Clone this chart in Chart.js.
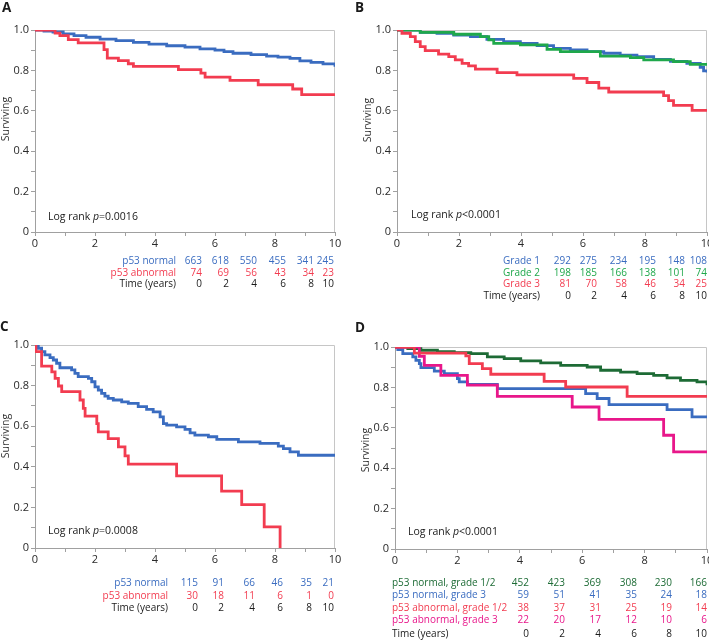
<!DOCTYPE html>
<html>
<head>
<meta charset="utf-8">
<script src="https://cdn.jsdelivr.net/npm/chart.js@4.4.1/dist/chart.umd.min.js"></script>
<style>
html, body { margin: 0; padding: 0; background: #fff; overflow: hidden; width: 709px; height: 640px; }
canvas { position: absolute; }
</style>
</head>
<body>
<canvas id="pA" width="354" height="310" style="left:0px;top:0px"></canvas>
<canvas id="pB" width="372" height="310" style="left:354px;top:0px"></canvas>
<canvas id="pC" width="354" height="330" style="left:0px;top:310px"></canvas>
<canvas id="pD" width="372" height="330" style="left:354px;top:310px"></canvas>
<script>
// ---- data (time in years, survival fraction) ----
const aNormalT = [0, 0.3, 0.6, 0.94, 1.3, 1.7, 2.17, 2.7, 3.28, 3.8, 4.39, 5.0, 5.5, 6.0, 6.3, 6.6, 7.2, 7.72, 8.1, 8.5, 8.83, 9.2, 9.6, 10];
const aNormalS = [1.0, 0.995, 0.99, 0.981, 0.972, 0.964, 0.955, 0.947, 0.939, 0.930, 0.922, 0.915, 0.907, 0.900, 0.893, 0.885, 0.878, 0.871, 0.866, 0.860, 0.847, 0.840, 0.832, 0.818];
const aAbnT = [0, 0.67, 0.83, 1.11, 1.44, 2.3, 2.41, 2.78, 3.11, 3.28, 4.78, 5.53, 5.67, 6.5, 7.44, 8.59, 8.89, 10];
const aAbnS = [1.0, 0.985, 0.972, 0.952, 0.936, 0.903, 0.861, 0.848, 0.833, 0.820, 0.804, 0.787, 0.767, 0.751, 0.729, 0.708, 0.680, 0.680];

const bG1T = [0, 0.75, 1.29, 1.83, 2.37, 2.9, 3.44, 3.98, 4.52, 5.05, 5.59, 6.13, 6.67, 7.2, 7.74, 8.28, 8.82, 9.35, 9.78, 9.89, 10];
const bG1S = [1.0, 0.988, 0.984, 0.975, 0.967, 0.954, 0.942, 0.934, 0.923, 0.909, 0.901, 0.893, 0.885, 0.876, 0.868, 0.855, 0.845, 0.835, 0.815, 0.798, 0.789];
const bG2T = [0, 0.75, 1.83, 2.69, 2.96, 3.12, 3.98, 4.84, 5.27, 6.56, 7.53, 7.96, 8.92, 9.46, 10];
const bG2S = [1.0, 0.988, 0.979, 0.967, 0.951, 0.934, 0.926, 0.904, 0.893, 0.871, 0.863, 0.852, 0.843, 0.830, 0.830];
const bG3T = [0, 0.16, 0.43, 0.59, 0.75, 0.91, 1.34, 1.67, 1.88, 2.1, 2.31, 2.53, 3.23, 3.87, 5.7, 6.13, 6.51, 6.83, 8.6, 8.76, 8.92, 9.52, 10];
const bG3S = [1.0, 0.984, 0.967, 0.942, 0.918, 0.898, 0.881, 0.868, 0.852, 0.835, 0.822, 0.806, 0.789, 0.778, 0.761, 0.740, 0.712, 0.693, 0.675, 0.650, 0.627, 0.602, 0.602];

const cNormalT = [0, 0.11, 0.22, 0.33, 0.5, 0.61, 0.72, 0.83, 1.22, 1.33, 1.44, 1.78, 1.89, 2.0, 2.11, 2.22, 2.33, 2.44, 2.61, 2.89, 3.11, 3.44, 3.72, 3.94, 4.17, 4.28, 4.39, 4.72, 5.0, 5.17, 5.33, 5.78, 6.06, 6.78, 7.5, 8.11, 8.28, 8.5, 8.78, 10];
const cNormalS = [1.0, 0.984, 0.967, 0.951, 0.938, 0.926, 0.910, 0.888, 0.877, 0.860, 0.844, 0.836, 0.819, 0.794, 0.778, 0.762, 0.748, 0.737, 0.729, 0.720, 0.712, 0.696, 0.683, 0.671, 0.646, 0.613, 0.605, 0.597, 0.584, 0.567, 0.556, 0.548, 0.535, 0.523, 0.515, 0.502, 0.490, 0.474, 0.457, 0.457];
const cAbnT = [0, 0.03, 0.22, 0.56, 0.67, 0.78, 0.89, 1.5, 1.61, 1.67, 2.06, 2.11, 2.44, 2.78, 3.0, 3.11, 4.72, 6.22, 6.89, 7.64, 8.17];
const cAbnS = [1.0, 0.967, 0.896, 0.868, 0.836, 0.798, 0.770, 0.729, 0.688, 0.650, 0.613, 0.572, 0.539, 0.498, 0.454, 0.413, 0.355, 0.280, 0.214, 0.104, 0];

const dNorm12T = [0, 0.41, 0.83, 1.36, 1.9, 2.43, 2.96, 3.5, 4.03, 4.67, 5.31, 6.16, 6.59, 7.23, 7.76, 8.29, 8.72, 9.15, 9.68, 10];
const dNorm12S = [1.0, 0.992, 0.984, 0.977, 0.972, 0.967, 0.951, 0.942, 0.931, 0.921, 0.909, 0.901, 0.885, 0.876, 0.868, 0.860, 0.847, 0.835, 0.827, 0.811];
const dNorm3T = [0, 0.09, 0.25, 0.57, 0.67, 0.78, 0.83, 1.26, 1.58, 2.0, 2.06, 2.32, 3.28, 6.11, 6.48, 6.86, 8.72, 9.52, 10];
const dNorm3S = [1.0, 0.987, 0.967, 0.951, 0.934, 0.918, 0.898, 0.881, 0.868, 0.843, 0.827, 0.815, 0.794, 0.769, 0.745, 0.715, 0.690, 0.654, 0.654];
const dAbn12T = [0, 0.62, 2.27, 2.38, 2.8, 3.07, 4.78, 5.47, 7.44, 10];
const dAbn12S = [1.0, 0.970, 0.956, 0.918, 0.893, 0.865, 0.830, 0.802, 0.756, 0.756];
const dAbn3T = [0, 0.78, 0.94, 1.47, 2.32, 3.28, 5.68, 6.54, 8.61, 8.93, 10];
const dAbn3S = [1.0, 0.954, 0.909, 0.860, 0.811, 0.756, 0.703, 0.642, 0.563, 0.481, 0.481];

// numbers at risk
const riskTimes = [0, 2, 4, 6, 8, 10];
const aRiskNormal = [663, 618, 550, 455, 341, 245];
const aRiskAbn = [74, 69, 56, 43, 34, 23];
const bRiskG1 = [292, 275, 234, 195, 148, 108];
const bRiskG2 = [198, 185, 166, 138, 101, 74];
const bRiskG3 = [81, 70, 58, 46, 34, 25];
const cRiskNormal = [115, 91, 66, 46, 35, 21];
const cRiskAbn = [30, 18, 11, 6, 1, 0];
const dRiskNorm12 = [452, 423, 369, 308, 230, 166];
const dRiskNorm3 = [59, 51, 41, 35, 24, 18];
const dRiskAbn12 = [38, 37, 31, 25, 19, 14];
const dRiskAbn3 = [22, 20, 17, 12, 10, 6];

const BLUE = '#3a6cc0', RED = '#f23c50', GREEN = '#1fa84b', DKGREEN = '#1d6b35', PINK = '#e8178a', INK = '#1a1a1a';
const FONT = '"Open Sans", "Noto Sans", sans-serif';

function curve(t, s, color) {
  return { data: t.map((x, i) => ({ x: x, y: s[i] })), borderColor: color, borderWidth: 2.8,
           stepped: 'before', pointRadius: 0, fill: false, tension: 0 };
}

// frame + all the labels that are not axis ticks
const kmText = {
  id: 'kmText',
  beforeDatasetsDraw(chart) {
    const ctx = chart.ctx, a = chart.chartArea;
    ctx.save();
    ctx.strokeStyle = '#c6c6c6'; ctx.lineWidth = 1;
    ctx.beginPath();
    ctx.moveTo(a.left, a.top + 0.5); ctx.lineTo(a.right - 0.5, a.top + 0.5); ctx.lineTo(a.right - 0.5, a.bottom);
    ctx.stroke();
    ctx.restore();
  },
  afterDraw(chart, args, o) {
    const ctx = chart.ctx;
    ctx.save();
    ctx.fillStyle = INK;
    ctx.font = 'bold 13.5px ' + FONT;
    ctx.textAlign = 'left'; ctx.textBaseline = 'alphabetic';
    ctx.fillText(o.letter, o.letterPos[0], o.letterPos[1]);

    ctx.save();
    ctx.translate(o.titlePos[0], o.titlePos[1]); ctx.rotate(-Math.PI / 2);
    ctx.font = '10.5px ' + FONT; ctx.textAlign = 'center'; ctx.textBaseline = 'middle';
    ctx.fillStyle = '#333';
    ctx.fillText('Surviving', 0, 0);
    ctx.restore();

    // log rank text, p in italics
    ctx.textBaseline = 'middle'; ctx.textAlign = 'left'; ctx.fillStyle = INK;
    let x = o.logPos[0];
    const parts = [['Log rank ', ''], ['p', 'italic '], [o.pText, '']];
    parts.forEach(p => { ctx.font = p[1] + '10.5px ' + FONT; ctx.fillText(p[0], x, o.logPos[1]); x += ctx.measureText(p[0]).width; });

    // numbers at risk
    ctx.font = '10px ' + FONT;
    o.rows.forEach((r, j) => {
      const y = o.rowY[j];
      ctx.fillStyle = r.color;
      ctx.textAlign = o.labelAlign;
      ctx.fillText(r.label, o.labelX, y);
      ctx.textAlign = 'right';
      r.values.forEach((v, i) => ctx.fillText(String(v), o.cols[i], y));
    });
    ctx.restore();
  }
};

function makeChart(id, datasets, box, extra) {
  const canvas = document.getElementById(id);
  return new Chart(canvas, {
    type: 'line',
    data: { datasets: datasets },
    options: {
      responsive: false, animation: false, events: [],
      layout: { padding: { left: 0, top: box.top, right: canvas.width - box.right, bottom: canvas.height - box.bottom - 20 } },
      plugins: { legend: { display: false }, tooltip: { enabled: false }, kmText: extra },
      scales: {
        x: {
          type: 'linear', min: 0, max: 10,
          afterFit: s => { s.height = 20; },
          border: { color: '#a0a0a0' },
          grid: { drawOnChartArea: false, drawTicks: true, tickLength: 4, color: '#a0a0a0' },
          ticks: { stepSize: 1, autoSkip: false, maxRotation: 0, padding: 1, color: '#2a2a2a', font: { family: FONT, size: 11 },
                   callback: v => (v % 2 ? '' : String(v)) }
        },
        y: {
          min: 0, max: 1,
          afterFit: s => { s.width = box.left; },
          border: { color: '#a0a0a0' },
          grid: { drawOnChartArea: false, drawTicks: true, tickLength: 4, color: '#a0a0a0' },
          ticks: { stepSize: 0.1, autoSkip: false, padding: 2, color: '#2a2a2a', font: { family: FONT, size: 11 },
                   callback: v => { const k = Math.round(v * 10); return k % 2 ? '' : (k === 0 ? '0' : (k / 10).toFixed(1)); } }
        }
      }
    },
    plugins: [kmText]
  });
}

const timeRow = { label: 'Time (years)', color: INK, values: riskTimes };

makeChart('pA', [curve(aAbnT, aAbnS, RED), curve(aNormalT, aNormalS, BLUE)],
  { left: 35, right: 335, top: 30, bottom: 232 },
  { letter: 'A', letterPos: [2, 12], titlePos: [6, 119], logPos: [48, 217], pText: '=0.0016',
    labelAlign: 'right', labelX: 176, rowY: [261, 273, 284], cols: [202, 229, 257, 286, 314, 334],
    rows: [{ label: 'p53 normal', color: BLUE, values: aRiskNormal }, { label: 'p53 abnormal', color: RED, values: aRiskAbn }, timeRow] });

makeChart('pB', [curve(bG3T, bG3S, RED), curve(bG2T, bG2S, GREEN), curve(bG1T, bG1S, BLUE)],
  { left: 43, right: 353, top: 30, bottom: 232 },
  { letter: 'B', letterPos: [1, 12], titlePos: [14, 120], logPos: [57, 215], pText: '<0.0001',
    labelAlign: 'right', labelX: 186, rowY: [261, 273, 284, 296], cols: [217, 243, 273, 302, 331, 353],
    rows: [{ label: 'Grade 1', color: BLUE, values: bRiskG1 }, { label: 'Grade 2', color: GREEN, values: bRiskG2 },
           { label: 'Grade 3', color: RED, values: bRiskG3 }, timeRow] });

makeChart('pC', [curve(cAbnT, cAbnS, RED), curve(cNormalT, cNormalS, BLUE)],
  { left: 35, right: 335, top: 35, bottom: 238 },
  { letter: 'C', letterPos: [0, 21], titlePos: [6, 126], logPos: [48, 221], pText: '=0.0008',
    labelAlign: 'right', labelX: 168, rowY: [273, 286, 298], cols: [198, 224, 255, 283, 312, 334],
    rows: [{ label: 'p53 normal', color: BLUE, values: cRiskNormal }, { label: 'p53 abnormal', color: RED, values: cRiskAbn }, timeRow] });

makeChart('pD', [curve(dAbn12T, dAbn12S, RED), curve(dAbn3T, dAbn3S, PINK), curve(dNorm3T, dNorm3S, BLUE), curve(dNorm12T, dNorm12S, DKGREEN)],
  { left: 41, right: 353, top: 37, bottom: 239 },
  { letter: 'D', letterPos: [1, 22], titlePos: [12, 140], logPos: [54, 222], pText: '<0.0001',
    labelAlign: 'left', labelX: 38, rowY: [273, 285, 298, 310, 324], cols: [175, 211, 247, 283, 318, 353],
    rows: [{ label: 'p53 normal, grade 1/2', color: DKGREEN, values: dRiskNorm12 }, { label: 'p53 normal, grade 3', color: BLUE, values: dRiskNorm3 },
           { label: 'p53 abnormal, grade 1/2', color: RED, values: dRiskAbn12 }, { label: 'p53 abnormal, grade 3', color: PINK, values: dRiskAbn3 }, timeRow] });
</script>
</body>
</html>
